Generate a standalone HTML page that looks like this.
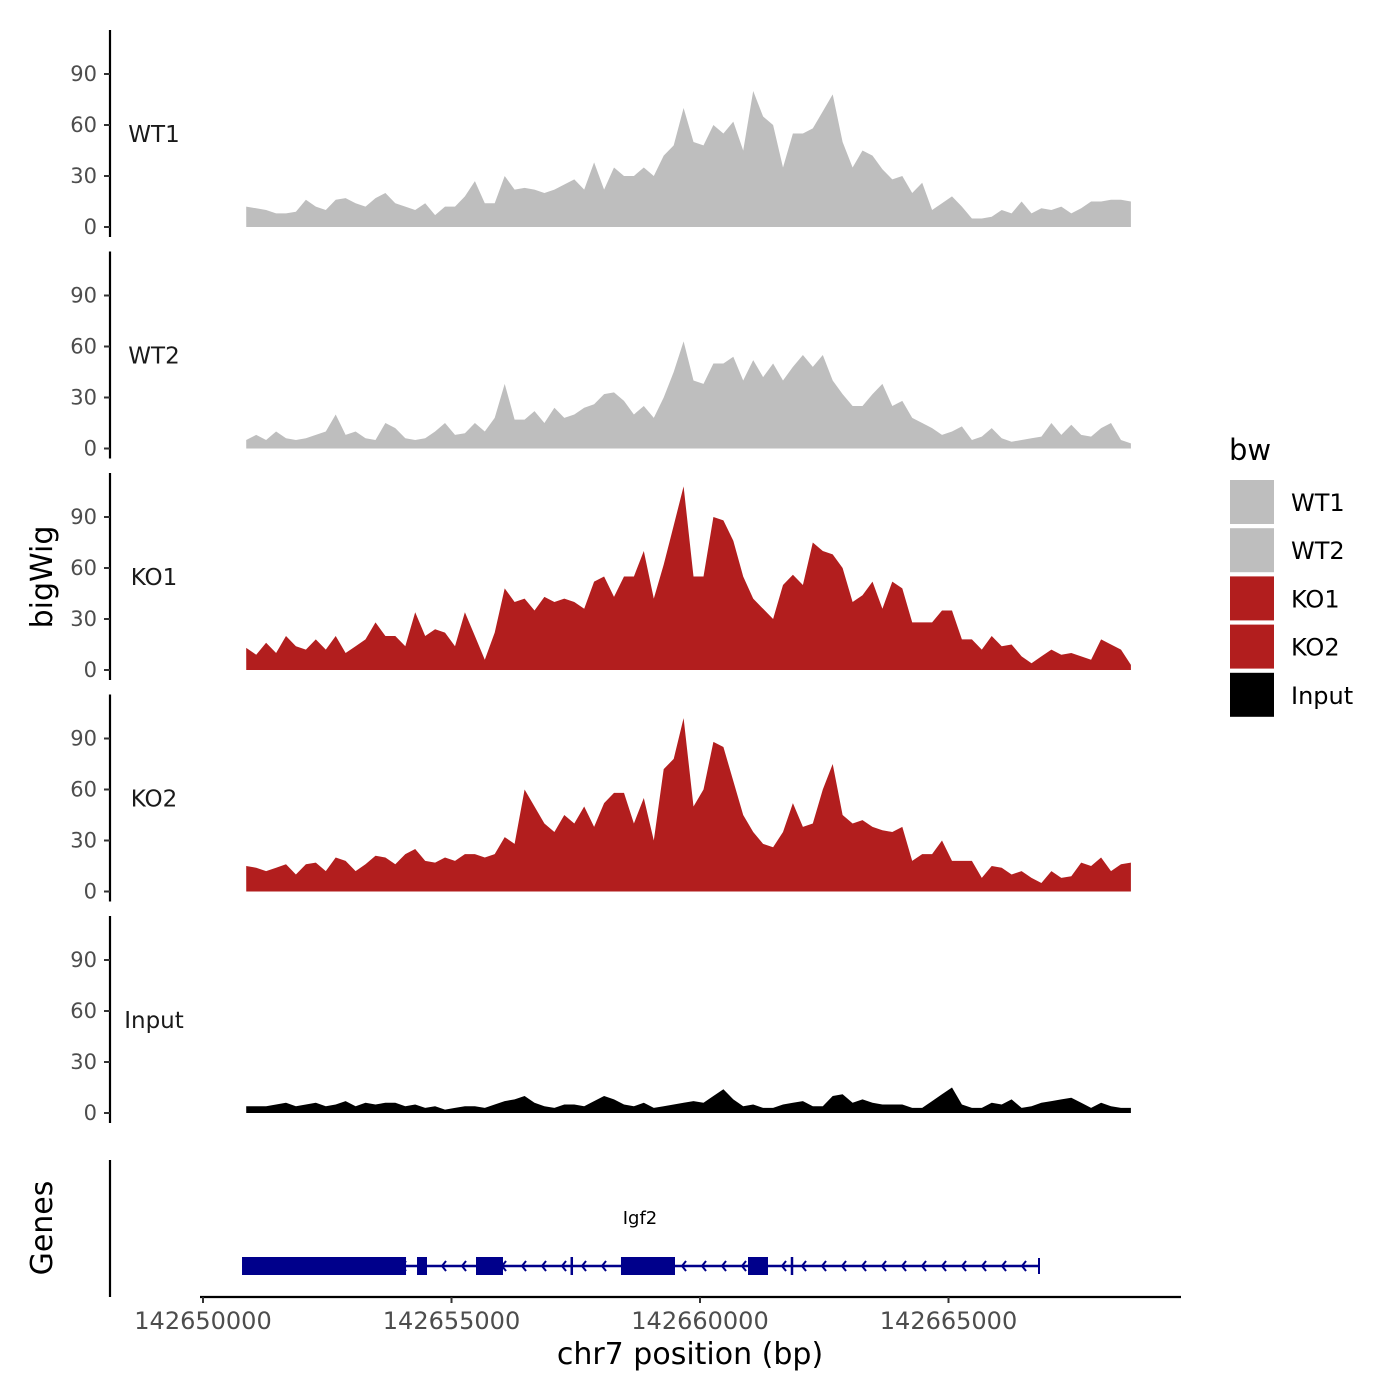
<!DOCTYPE html>
<html><head><meta charset="utf-8"><style>
body{margin:0;background:#fff}
svg{display:block;font-family:"DejaVu Sans","Liberation Sans",sans-serif}
</style></head><body>
<svg id="chart" width="1400" height="1400" viewBox="0 0 1400 1400"></svg>
<script>
const tracks = ["WT1","WT2","KO1","KO2","Input"];
const trackColors = ["#bebebe","#bebebe","#b21e1e","#b21e1e","#000000"];
const binStart = 142650870;
const binStep = 200;
const wt1 = [12,11,10,8,8,9,16,12,10,16,17,14,12,17,20,14,12,10,14,7,12,12,18,27,14,14,30,22,23,22,20,22,25,28,22,38,22,35,30,30,35,30,42,48,70,50,48,60,55,62,45,80,65,60,35,55,55,58,68,78,50,35,45,42,34,28,30,20,26,10,14,18,12,5,5,6,10,8,15,8,11,10,12,8,11,15,15,16,16,15];
const wt2 = [5,8,5,10,6,5,6,8,10,20,8,10,6,5,15,12,6,5,6,10,15,8,9,15,10,18,38,17,17,22,15,24,18,20,24,26,32,33,28,20,25,18,30,45,63,40,38,50,50,54,40,52,42,50,40,48,55,48,55,40,32,25,25,32,38,25,28,18,15,12,8,10,13,5,7,12,6,4,5,6,7,15,8,14,8,7,12,15,5,3];
const ko1 = [13,9,16,10,20,14,12,18,12,20,10,14,18,28,20,20,14,34,20,24,22,14,34,20,6,22,48,40,42,35,43,40,42,40,36,52,55,43,55,55,70,42,62,85,108,55,55,90,88,76,55,42,36,30,50,56,50,75,70,68,60,40,44,52,36,52,48,28,28,28,35,35,18,18,12,20,14,15,8,4,8,12,9,10,8,6,18,15,12,3];
const ko2 = [15,14,12,14,16,10,16,17,12,20,18,12,16,21,20,16,22,25,18,17,20,18,22,22,20,22,32,28,60,50,40,35,45,40,50,38,52,58,58,40,55,30,72,78,102,50,60,88,85,65,45,35,28,26,35,52,38,40,60,75,45,40,42,38,36,35,38,18,22,22,30,18,18,18,8,15,14,10,12,8,5,12,8,9,17,15,20,12,16,17];
const inputSig = [4,4,4,5,6,4,5,6,4,5,7,4,6,5,6,6,4,5,3,4,2,3,4,4,3,5,7,8,10,6,4,3,5,5,4,7,10,8,5,4,6,3,4,5,6,7,6,10,14,8,4,5,3,3,5,6,7,4,4,10,11,6,8,6,5,5,5,3,3,7,11,15,5,3,3,6,5,8,3,4,6,7,8,9,6,3,6,4,3,3];
const trackData = [wt1,wt2,ko1,ko2,inputSig];
const yTicks = [0,30,60,90];
const xTicks = [142650000,142655000,142660000,142665000];
const exonStarts = [142650785,142654306,142655493,142658410,142660966];
const exonEnds = [142654085,142654507,142656036,142659497,142661368];
const tickMarks = [142657420,142661851];
const geneStart = 142650785, geneEnd = 142666821;

const svg = document.getElementById('chart');
const NS = 'http://www.w3.org/2000/svg';
function mk(tag, attrs, parent){const e=document.createElementNS(NS,tag);for(const k in attrs)e.setAttribute(k,attrs[k]);(parent||svg).appendChild(e);return e;}
const xScale = bp => 203 + (bp-142650000)*248.5/5000;
const panelZero = k => 227 + 221.5*k;
const yScale = (v,k) => panelZero(k) - v*1.7;

tracks.forEach((name,k)=>{
  const g = mk('g',{});
  
  
  const ax = mk('line',{x1:110,x2:110,y1:30+221.5*k,y2:237+221.5*k,stroke:'#000','stroke-width':2.2},g);
  
  
  yTicks.forEach(t=>{
    const y=yScale(t,k);
    mk('line',{x1:104,x2:110,y1:y,y2:y,stroke:'#333','stroke-width':2},g);
    const tx=mk('text',{x:97,y:y+7,'text-anchor':'end','font-size':21,fill:'#4d4d4d'},g);
    tx.textContent=t;
    
    
  });
  const lab=mk('text',{x:154,y:142+221.5*k,'text-anchor':'middle','font-size':23,fill:'#1a1a1a'},g);
  lab.textContent=name;
  
  
  const d=trackData[k];
  let p='M'+xScale(binStart)+','+panelZero(k);
  d.forEach((v,i)=>{p+=' L'+xScale(binStart+i*binStep).toFixed(1)+','+yScale(v,k).toFixed(1);});
  p+=' L'+xScale(binStart+(d.length-1)*binStep).toFixed(1)+','+panelZero(k)+'Z';
  const area=mk('path',{d:p,fill:trackColors[k]},g);
  
  
});

// genes panel
const gax=mk('line',{x1:110,x2:110,y1:1160,y2:1297,stroke:'#000','stroke-width':2.2});


const gl=mk('text',{x:52,y:1228,'text-anchor':'middle','font-size':30,fill:'#000',transform:'rotate(-90 52 1228)'});
gl.textContent='Genes';


const gene=mk('g',{});


mk('line',{x1:xScale(geneStart),x2:xScale(geneEnd),y1:1266,y2:1266,stroke:'#00008b','stroke-width':2.5},gene);
for(let x=xScale(geneStart)+20;x<xScale(geneEnd);x+=20){
  mk('polyline',{points:(x+4)+',1261 '+x+',1266 '+(x+4)+',1271',fill:'none',stroke:'#00008b','stroke-width':2},gene);
}
exonStarts.forEach((s,i)=>{
  const r=mk('rect',{x:xScale(s),y:1257,width:xScale(exonEnds[i])-xScale(s),height:18,fill:'#00008b'},gene);
  
  
});
tickMarks.forEach(t=>{mk('line',{x1:xScale(t),x2:xScale(t),y1:1257,y2:1275,stroke:'#00008b','stroke-width':2.5},gene);});
mk('line',{x1:xScale(geneEnd),x2:xScale(geneEnd),y1:1258,y2:1274,stroke:'#00008b','stroke-width':2},gene);
const gn=mk('text',{x:640,y:1224,'text-anchor':'middle','font-size':18,fill:'#000'},gene);
gn.textContent='Igf2';



// x axis
const xa=mk('line',{x1:200,x2:1181,y1:1297,y2:1297,stroke:'#000','stroke-width':2.2});


xTicks.forEach(t=>{
  const x=xScale(t);
  mk('line',{x1:x,x2:x,y1:1297,y2:1303,stroke:'#333','stroke-width':2});
  const tx=mk('text',{x:x,y:1329,'text-anchor':'middle','font-size':24,fill:'#4d4d4d'});
  tx.textContent=t;
  
  
});
const xt=mk('text',{x:690,y:1364,'text-anchor':'middle','font-size':30,fill:'#000'});
xt.textContent='chr7 position (bp)';


const yt=mk('text',{x:52,y:577,'text-anchor':'middle','font-size':30,fill:'#000',transform:'rotate(-90 52 577)'});
yt.textContent='bigWig';



// legend
const lt=mk('text',{x:1229,y:460,'font-size':29,fill:'#000'});
lt.textContent='bw';


tracks.forEach((name,i)=>{
  const y=480+48.2*i;
  const r=mk('rect',{x:1230,y:y,width:44,height:44,fill:trackColors[i]});
  
  
  const t=mk('text',{x:1291,y:y+31,'font-size':24,fill:'#000'});
  t.textContent=name;
  
  
});
</script>
</body></html>
